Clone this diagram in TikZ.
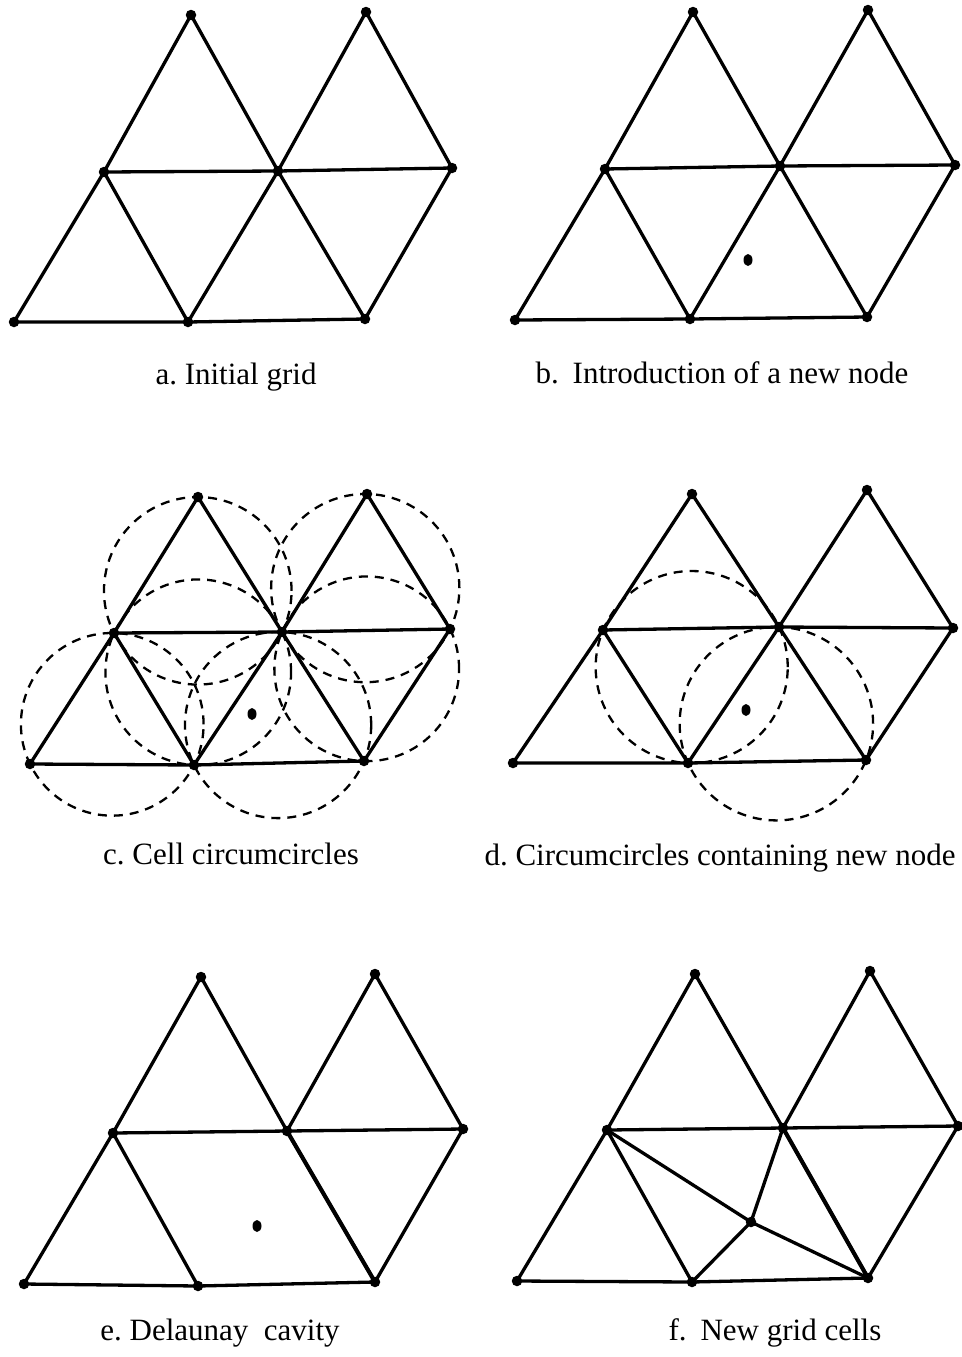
\documentclass[tikz,border=0pt]{standalone}
\usepackage{fontspec}
\setmainfont{Liberation Serif}
\frenchspacing
\usetikzlibrary{calc,through,shapes.geometric}
\tikzset{
  dot/.style={circle,fill=black,inner sep=0pt,minimum size=10.5pt},
  newdot/.style={ellipse,fill=black,inner sep=0pt,minimum width=9pt,minimum height=12pt},
  edge/.style={line width=3.3pt,line join=round,line cap=round},
  thickedge/.style={line width=4.1pt,line cap=round},
  circum/.style={draw,dash pattern=on 9pt off 7pt,line width=2.3pt,inner sep=0pt,outer sep=0pt},
  caption/.style={anchor=base,font=\fontsize{31}{35}\selectfont,inner sep=0pt}
}
\newcommand\vtx[3]{\node[dot] (#1) at (#2,#3) {};}
\newcommand\gridedges[1]{%
  \draw[edge] (#1t1.center)--(#1m1.center)--(#1b1.center)--(#1b2.center)--(#1b3.center)--(#1m3.center)--(#1t2.center)--(#1m2.center)--cycle;
  \draw[edge] (#1m1.center)--(#1m2.center)--(#1m3.center);
  \draw[edge] (#1m1.center)--(#1b2.center);
  \draw[edge] (#1m2.center)--(#1b3.center);
}
\newcommand\circumcircle[4]{%
  \coordinate (#1ab) at ($(#2.center)!0.5!(#3.center)$);
  \coordinate (#1abp) at ($(#1ab)!1!90:(#3.center)$);
  \coordinate (#1ac) at ($(#2.center)!0.5!(#4.center)$);
  \coordinate (#1acp) at ($(#1ac)!1!90:(#4.center)$);
  \coordinate (#1o) at (intersection of #1ab--#1abp and #1ac--#1acp);
  \node[circum,circle through=(#2.center)] (#1) at (#1o) {};
}
\begin{document}
\begin{tikzpicture}[x=1pt,y=-1pt]
\useasboundingbox (0,0) rectangle (961,1357);
% ---------- panel a ----------
\vtx{at1}{191}{15}\vtx{at2}{366}{12}
\vtx{am1}{104}{172}\vtx{am2}{278}{171}\vtx{am3}{452}{168}
\vtx{ab1}{14}{322}\vtx{ab2}{188}{322}\vtx{ab3}{365}{319}
\gridedges{a}
\draw[edge] (am2.center)--(ab2.center);
\node[caption] (capa) at (236,384) {a. Initial grid};
% ---------- panel b ----------
\vtx{bt1}{693}{12}\vtx{bt2}{868}{10}
\vtx{bm1}{605}{169}\vtx{bm2}{780}{166}\vtx{bm3}{955}{165}
\vtx{bb1}{515}{320}\vtx{bb2}{690}{319}\vtx{bb3}{867}{317}
\node[newdot] (bn) at (748,260) {};
\gridedges{b}
\draw[edge] (bm2.center)--(bb2.center);
\node[caption] (capb) at (722,383) {b.\hspace{0.45em}Introduction of a new node};
% ---------- panel c ----------
\vtx{ct1}{198}{497}\vtx{ct2}{367}{494}
\vtx{cm1}{114}{633}\vtx{cm2}{282}{632}\vtx{cm3}{450}{629}
\vtx{cb1}{30}{764}\vtx{cb2}{194}{765}\vtx{cb3}{364}{761}
\node[newdot] (cn) at (252,714) {};
\gridedges{c}
\draw[edge] (cm2.center)--(cb2.center);
\circumcircle{cc1}{ct1}{cm1}{cm2}
\circumcircle{cc2}{ct2}{cm2}{cm3}
\circumcircle{cc3}{cm1}{cb1}{cb2}
\circumcircle{cc4}{cm1}{cm2}{cb2}
\circumcircle{cc5}{cm2}{cb2}{cb3}
\circumcircle{cc6}{cm2}{cm3}{cb3}
\node[caption] (capc) at (231,864) {c. Cell circumcircles};
% ---------- panel d ----------
\vtx{dt1}{692}{494}\vtx{dt2}{867}{490}
\vtx{dm1}{603}{630}\vtx{dm2}{779}{627}\vtx{dm3}{953}{628}
\vtx{db1}{513}{763}\vtx{db2}{688}{763}\vtx{db3}{866}{760}
\node[newdot] (dn) at (746,710) {};
\gridedges{d}
\draw[edge] (dm2.center)--(db2.center);
\circumcircle{dc1}{dm1}{dm2}{db2}
\circumcircle{dc2}{dm2}{db2}{db3}
\node[caption] (capd) at (720,865) {d. Circumcircles containing new node};
% ---------- panel e ----------
\vtx{et1}{201}{977}\vtx{et2}{375}{974}
\vtx{em1}{113}{1133}\vtx{em2}{287}{1131}\vtx{em3}{463}{1129}
\vtx{eb1}{24}{1284}\vtx{eb2}{198}{1286}\vtx{eb3}{375}{1282}
\node[newdot] (en) at (257,1226) {};
\gridedges{e}
\draw[thickedge] (em2.center)--(eb3.center);
\node[caption] (cape) at (220,1340) {e. Delaunay\hspace{0.5em}cavity};
% ---------- panel f ----------
\vtx{ft1}{695}{974}\vtx{ft2}{870}{971}
\vtx{fm1}{607}{1130}\vtx{fm2}{783}{1128}\vtx{fm3}{958}{1126}
\vtx{fb1}{517}{1281}\vtx{fb2}{692}{1282}\vtx{fb3}{868}{1278}
\vtx{fn}{751}{1222}
\gridedges{f}
\draw[thickedge] (fm2.center)--(fb3.center);
\draw[edge] (fm1.center)--(fn.center)--(fb3.center);
\draw[edge] (fm2.center)--(fn.center)--(fb2.center);
\node[caption] (capf) at (775,1340) {f.\hspace{0.45em}New grid cells};
\end{tikzpicture}
\end{document}
